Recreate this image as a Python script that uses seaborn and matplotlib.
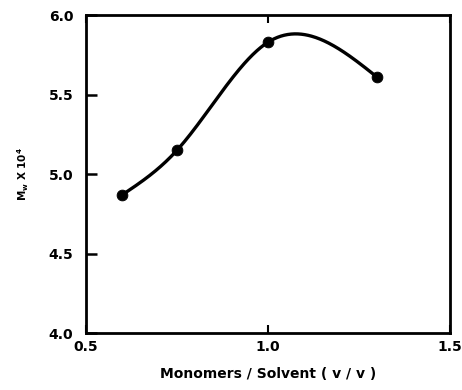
import numpy as np
import pandas as pd
import matplotlib
matplotlib.use("Agg")
import matplotlib.pyplot as plt
import seaborn as sns

ratio = [0.6, 0.75, 1.0, 1.3]
mw = [4.87, 5.15, 5.83, 5.61]
xticks = [0.5, 1.0, 1.5]
yticks = [4.0, 4.5, 5.0, 5.5, 6.0]

def natural_spline(x, y, xs):
    x = np.asarray(x, float); y = np.asarray(y, float)
    n = len(x); h = np.diff(x)
    A = np.zeros((n, n)); b = np.zeros(n)
    A[0, 0] = 1; A[-1, -1] = 1
    for i in range(1, n - 1):
        A[i, i - 1] = h[i - 1]; A[i, i] = 2 * (h[i - 1] + h[i]); A[i, i + 1] = h[i]
        b[i] = 3 * ((y[i + 1] - y[i]) / h[i] - (y[i] - y[i - 1]) / h[i - 1])
    c = np.linalg.solve(A, b)
    out = []
    for t in xs:
        i = min(max(np.searchsorted(x, t) - 1, 0), n - 2)
        d = t - x[i]
        bi = (y[i + 1] - y[i]) / h[i] - h[i] * (2 * c[i] + c[i + 1]) / 3
        di = (c[i + 1] - c[i]) / (3 * h[i])
        out.append(y[i] + bi * d + c[i] * d ** 2 + di * d ** 3)
    return np.array(out)

sns.set_style("ticks")
plt.rcParams['font.family'] = ['DejaVu Sans']
plt.rcParams['font.weight'] = 'bold'
plt.rcParams['mathtext.fontset'] = 'dejavusans'
plt.rcParams['text.color'] = 'black'
plt.rcParams['axes.labelcolor'] = 'black'
plt.rcParams['xtick.color'] = 'black'
plt.rcParams['ytick.color'] = 'black'

fig = plt.figure(figsize=(4.62, 3.9), dpi=100)
ax = fig.add_axes([0.186, 0.146, 0.788, 0.815])

xs = np.linspace(ratio[0], ratio[-1], 300)
curve = pd.DataFrame({"x": xs, "y": natural_spline(ratio, mw, xs)})
pts = pd.DataFrame({"x": ratio, "y": mw})
sns.lineplot(data=curve, x="x", y="y", ax=ax, color="black", lw=2.4)
sns.scatterplot(data=pts, x="x", y="y", ax=ax, color="black", s=60, edgecolor="black", zorder=5)

ax.set_xlim(0.5, 1.5)
ax.set_ylim(4.0, 6.0)
ax.set_xticks(xticks)
ax.set_yticks(yticks)
ax.set_xticklabels([f"{v:.1f}" for v in xticks], fontsize=10, fontweight='bold', color='black')
ax.set_yticklabels([f"{v:.1f}" for v in yticks], fontsize=10, fontweight='bold', color='black')
ax.tick_params(axis='y', direction="in", length=8, width=1.8, right=False, pad=9)
ax.tick_params(axis='x', direction="in", length=6, width=1.5, top=True, pad=5)
for s in ax.spines.values():
    s.set_linewidth(2.0)
    s.set_color("black")
ax.set_xlabel("Monomers / Solvent ( v / v )", fontsize=10, fontweight='bold', labelpad=9, color='black')
ax.set_ylabel(r"$\mathbf{M_w}$ X 10$^\mathbf{4}$", fontsize=7.5, fontweight='bold', labelpad=13, color='black')

fig.savefig("out.png", dpi=100)
